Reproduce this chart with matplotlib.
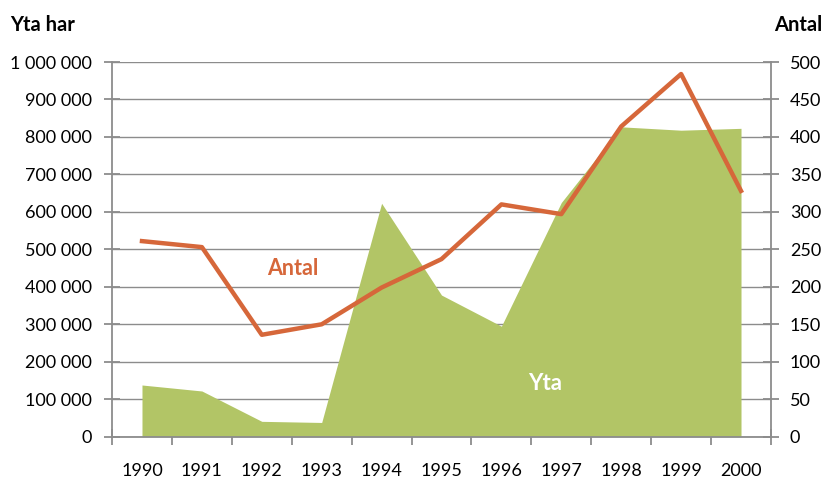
import numpy as np
import matplotlib
matplotlib.use("Agg")
from matplotlib import pyplot as plt
from matplotlib.ticker import FixedLocator, FuncFormatter

years = ["1990", "1991", "1992", "1993", "1994", "1995",
         "1996", "1997", "1998", "1999", "2000"]
yta_har = [138000, 122000, 41000, 38000, 623000, 378000,
           295000, 625000, 827000, 818000, 823000]
antal = [261, 253, 136, 150, 199, 237, 310, 297, 414, 484, 328]

green = "#B2C566"
orange = "#D6673A"
grid_gray = "#8C8C8C"

plt.rcParams["font.family"] = ["Lato", "DejaVu Sans"]

fig = plt.figure(figsize=(8.25, 4.8), dpi=100)
ax = fig.add_axes([0.1358, 0.0902, 0.7987, 0.7806])
ax2 = ax.twinx()

x = np.arange(len(years))
ax.fill_between(x, 0, yta_har, color=green, linewidth=0, zorder=2)
ax2.plot(x, antal, color=orange, linewidth=3.2, solid_joinstyle="round", zorder=3)

ax.set_xlim(-0.5, len(years) - 0.5)
ax.set_ylim(0, 1000000)
ax2.set_ylim(0, 500)

ax.set_yticks(np.arange(0, 1000001, 100000))
ax.yaxis.set_major_formatter(FuncFormatter(lambda v, p: f"{int(v):,}".replace(",", " ")))
ax2.set_yticks(np.arange(0, 501, 50))

# category boundaries get the tick marks, centres get the year labels
ax.xaxis.set_major_locator(FixedLocator(np.arange(-0.5, len(years), 1.0)))
ax.xaxis.set_major_formatter(FuncFormatter(lambda v, p: ""))
ax.xaxis.set_minor_locator(FixedLocator(x))
ax.set_xticklabels(years, minor=True)

ax.grid(axis="y", color=grid_gray, linewidth=1.0, zorder=0)
ax.set_axisbelow(True)

for a in (ax, ax2):
    for s in a.spines.values():
        s.set_visible(False)
ax.spines["left"].set_visible(True)
ax.spines["bottom"].set_visible(True)
ax2.spines["right"].set_visible(True)
for s in (ax.spines["left"], ax.spines["bottom"], ax2.spines["right"]):
    s.set_color(grid_gray)
    s.set_linewidth(1.3)

ax.tick_params(axis="y", direction="inout", length=11, width=1.3, color=grid_gray,
               pad=9, labelsize=13)
ax2.tick_params(axis="y", direction="inout", length=11, width=1.3, color=grid_gray,
                pad=8, labelsize=13)
ax.tick_params(axis="x", which="major", direction="inout", length=11, width=1.3,
               color=grid_gray)
ax.tick_params(axis="x", which="minor", length=0, pad=19, labelsize=13)

fig.text(0.012, 0.947, "Yta har", fontsize=14.5, fontweight="bold", ha="left", va="center")
fig.text(0.997, 0.947, "Antal", fontsize=14.5, fontweight="bold", ha="right", va="center")

ax.text(2.52, 450000, "Antal", color=orange, fontsize=15.5, fontweight="bold",
        ha="center", va="center", zorder=5)
ax.text(6.73, 143000, "Yta", color="white", fontsize=16, fontweight="bold",
        ha="center", va="center", zorder=5)

fig.savefig("out.png", dpi=100)
